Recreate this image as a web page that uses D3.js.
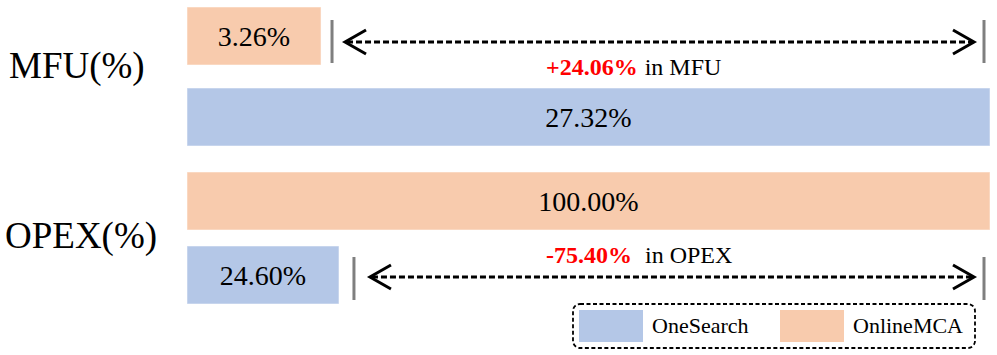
<!DOCTYPE html>
<html>
<head>
<meta charset="utf-8">
<script src="https://cdn.jsdelivr.net/npm/d3@7"></script>
<style>
  html, body { margin: 0; padding: 0; background: #ffffff; }
  svg { display: block; }
  svg text { font-family: "Liberation Serif", "Times New Roman", serif; }
</style>
</head>
<body>
<svg id="chart" width="997" height="355"></svg>
<script>
// ---- data ----
const metrics = ["MFU(%)", "OPEX(%)"];
const metricShort = ["MFU", "OPEX"];
const methods = ["OnlineMCA", "OneSearch"];
const onlineMCA = [3.26, 100.00];
const oneSearch = [27.32, 24.60];
const legendLabels = ["OneSearch", "OnlineMCA"];

// ---- styles ----
const FONT = "'Liberation Serif', 'Times New Roman', serif";
const colors = { OneSearch: "#B4C7E7", OnlineMCA: "#F8CBAD" };
const svg = d3.select("#chart");

// per-metric horizontal scales (the original figure uses a separate stretch per metric)
const xScales = {
  "MFU(%)": d3.scaleLinear().domain([-1.56, 27.32]).range([187, 990]),
  "OPEX(%)": d3.scaleLinear().domain([7.0, 100]).range([187, 990])
};

// rows: metric x method
const rows = [];
metrics.forEach((m, i) => {
  methods.forEach(meth => {
    rows.push({ metric: m, method: meth, value: meth === "OnlineMCA" ? onlineMCA[i] : oneSearch[i], key: m + "|" + meth });
  });
});
const yRow = d3.scaleOrdinal().domain(rows.map(r => r.key)).range([7, 88, 172, 246]);
const barH = 58;
const fmtSigned = v => (v >= 0 ? "+" : "-") + d3.format(".2f")(Math.abs(v));

// bars
svg.append("g").selectAll("rect").data(rows).join("rect")
  .attr("x", d => xScales[d.metric].range()[0])
  .attr("y", d => yRow(d.key))
  .attr("width", d => xScales[d.metric](d.value) - xScales[d.metric].range()[0])
  .attr("height", barH)
  .attr("fill", d => colors[d.method])
  .attr("stroke", "#ffffff").attr("stroke-opacity", 0.5).attr("stroke-width", 1);

// bar labels
svg.append("g").selectAll("text").data(rows).join("text")
  .attr("x", d => (xScales[d.metric].range()[0] + xScales[d.metric](d.value)) / 2)
  .attr("y", d => yRow(d.key) + barH / 2 + 10)
  .attr("text-anchor", "middle")
  .attr("font-family", FONT)
  .attr("font-size", 28)
  .attr("fill", "#000")
  .text(d => d3.format(".2f")(d.value) + "%");

// metric labels
const labelY = { "MFU(%)": 78, "OPEX(%)": 248 };
svg.append("g").selectAll("text").data(metrics).join("text")
  .attr("x", (d, i) => i === 0 ? 9 : 5)
  .attr("y", d => labelY[d])
  .attr("font-family", FONT)
  .attr("font-size", 37)
  .attr("fill", "#000")
  .text(d => d);

// annotations
metrics.forEach((m, i) => {
  const x = xScales[m];
  const a = onlineMCA[i], b = oneSearch[i];
  const shortMethod = a < b ? "OnlineMCA" : "OneSearch";
  const shortVal = Math.min(a, b), longVal = Math.max(a, b);
  const rowTop = yRow(m + "|" + shortMethod);
  const firstRow = shortMethod === methods[0];
  const arrowY = firstRow ? rowTop + 35 : rowTop + 31;
  const lineTop = firstRow ? rowTop + 13 : rowTop + 11;
  const lineBot = lineTop + 43;
  const xl = x(shortVal) + (firstRow ? 11 : 15);
  const xr = x(longVal) - 6;
  const g = svg.append("g");
  [xl, xr].forEach(xx => {
    g.append("line").attr("x1", xx).attr("x2", xx).attr("y1", lineTop).attr("y2", lineBot)
      .attr("stroke", "#7F7F7F").attr("stroke-width", 3);
  });
  const tipL = xl + 13 + (firstRow ? 0 : 3), tipR = xr - 10;
  g.append("line").attr("x1", tipL + 2).attr("x2", tipR - 2).attr("y1", arrowY).attr("y2", arrowY)
    .attr("stroke", "#000").attr("stroke-width", 2.8).attr("stroke-dasharray", "6,3");
  const ah = 21, av = 12;
  g.append("polyline").attr("points", [[tipL + ah, arrowY - av], [tipL, arrowY], [tipL + ah, arrowY + av]].join(" "))
    .attr("fill", "none").attr("stroke", "#000").attr("stroke-width", 3);
  g.append("polyline").attr("points", [[tipR - ah, arrowY - av], [tipR, arrowY], [tipR - ah, arrowY + av]].join(" "))
    .attr("fill", "none").attr("stroke", "#000").attr("stroke-width", 3);
  const diff = b - a;
  const t = g.append("text")
    .attr("x", 546)
    .attr("y", firstRow ? arrowY + 33 : arrowY - 14)
    .attr("font-family", FONT)
    .attr("font-size", 24);
  t.append("tspan").attr("font-family", FONT).attr("fill", "#FF0000").attr("font-weight", "bold")
    .text(fmtSigned(diff) + "%");
  t.append("tspan").attr("font-family", FONT).attr("fill", "#000").attr("dx", firstRow ? 7 : 13)
    .text("in " + metricShort[i]);
});

// legend
const lg = svg.append("g");
lg.append("rect").attr("x", 573).attr("y", 304).attr("width", 402).attr("height", 44).attr("rx", 7)
  .attr("fill", "none").attr("stroke", "#000").attr("stroke-width", 1.8).attr("stroke-dasharray", "4,2.5");
const legX = [579, 780];
legendLabels.forEach((lab, i) => {
  lg.append("rect").attr("x", legX[i]).attr("y", 310).attr("width", 64).attr("height", 32)
    .attr("fill", colors[lab]);
  lg.append("text").attr("x", legX[i] + 73).attr("y", 333)
    .attr("font-family", FONT).attr("font-size", 22).attr("fill", "#000").text(lab);
});
</script>
</body>
</html>
